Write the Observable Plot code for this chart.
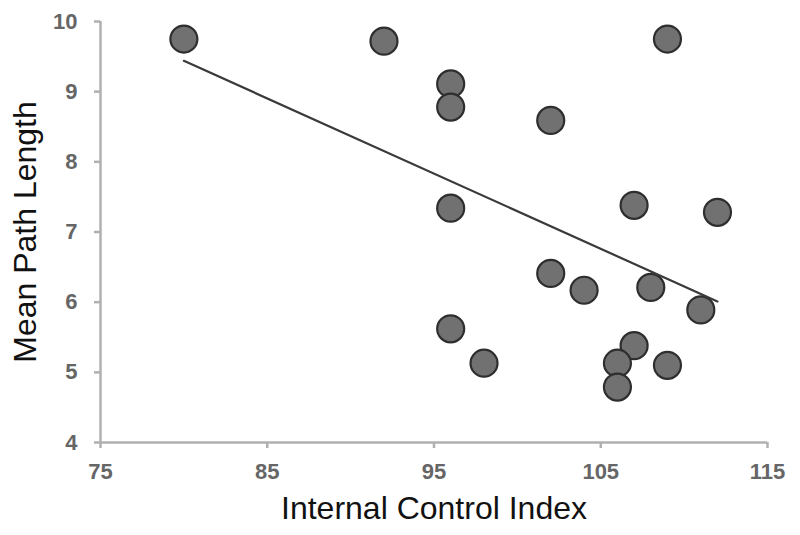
<!DOCTYPE html>
<html>
<head>
<meta charset="utf-8">
<script src="https://cdn.jsdelivr.net/npm/d3@7"></script>
<script src="https://cdn.jsdelivr.net/npm/@observablehq/plot@0.6"></script>
<style>
  html, body { margin: 0; padding: 0; background: #fff; }
  #chart svg { display: block; }
</style>
</head>
<body>
<div id="chart"></div>
<script>
// Data
const controlIndex = [80, 92, 96, 96, 102, 109, 96, 107, 112, 102, 104, 108, 111, 96, 98, 107, 106, 106, 109];
const pathLength   = [9.75, 9.72, 9.11, 8.78, 8.59, 9.75, 7.34, 7.38, 7.28, 6.41, 6.17, 6.21, 5.89, 5.62, 5.13, 5.38, 5.13, 4.79, 5.10];

const trendX = [80, 112];
const trendY = [9.44, 6.01];

const xTicks = [75, 85, 95, 105, 115];
const yTicks = [4, 5, 6, 7, 8, 9, 10];

const xTitle = "Internal Control Index";
const yTitle = "Mean Path Length";

const points = controlIndex.map((x, i) => ({x, y: pathLength[i]}));
const trend = trendX.map((x, i) => ({x, y: trendY[i]}));

const chart = Plot.plot({
  width: 800,
  height: 535,
  marginLeft: 100,
  marginRight: 33,
  marginTop: 21,
  marginBottom: 93,
  style: {fontFamily: "'Liberation Sans', Arial, sans-serif", fontSize: "22px", background: "#fff"},
  x: {domain: [75, 115]},
  y: {domain: [4, 10]},
  marks: [
    Plot.axisX({ticks: xTicks, tickFormat: "d", tickSize: 6, tickPadding: 15, fontSize: 22, fontWeight: "bold",
      stroke: "#b0b0b0", strokeWidth: 2.5, fill: "#666", label: null}),
    Plot.axisY({ticks: yTicks, tickFormat: "d", tickSize: 6, tickPadding: 17, fontSize: 22, fontWeight: "bold",
      stroke: "#b0b0b0", strokeWidth: 2.5, fill: "#666", label: null}),
    Plot.ruleX([75], {stroke: "#b0b0b0", strokeWidth: 2.5}),
    Plot.ruleY([4], {stroke: "#b0b0b0", strokeWidth: 2.5}),
    Plot.dot(points, {x: "x", y: "y", r: 13.5, fill: "#717171", stroke: "#2e2e2e", strokeWidth: 2.2}),
    Plot.line(trend, {x: "x", y: "y", stroke: "#3a3a3a", strokeWidth: 2.2}),
    Plot.text([xTitle], {frameAnchor: "bottom", dy: 76, textAnchor: "middle", text: d => d, fontSize: 32, fill: "#111"}),
    Plot.text([yTitle], {frameAnchor: "left", dx: -75, rotate: -90, textAnchor: "middle", text: d => d, fontSize: 32, fill: "#111"})
  ]
});
document.getElementById("chart").appendChild(chart);
</script>
</body>
</html>
